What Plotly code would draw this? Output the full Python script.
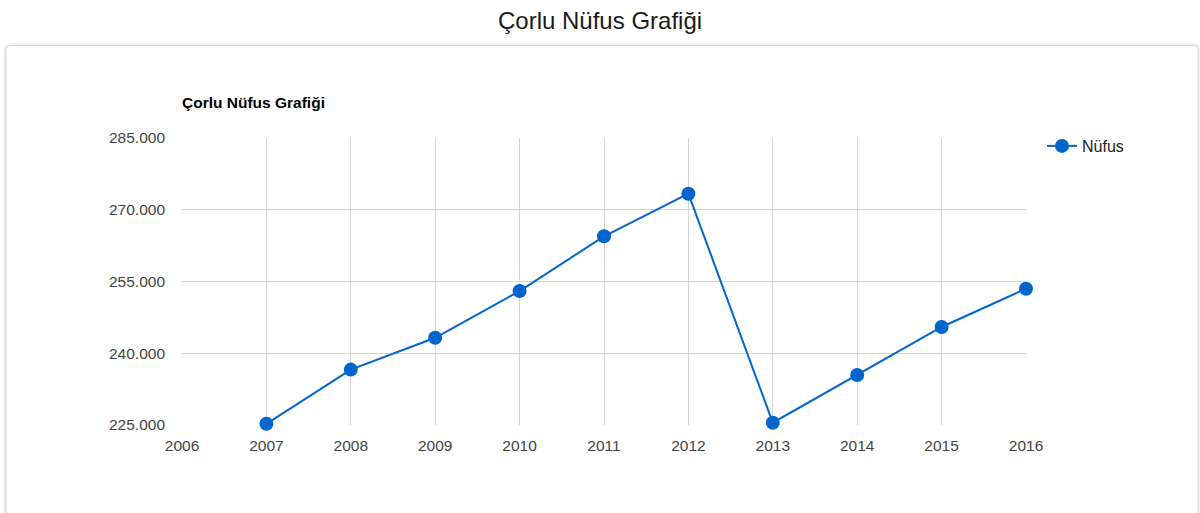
import plotly.graph_objects as go

# Çorlu population by year
years = [2007, 2008, 2009, 2010, 2011, 2012, 2013, 2014, 2015, 2016]
population = [225244, 236584, 243228, 253010, 264450, 273360, 225480, 235450, 245490, 253500]

x_ticks = list(range(2006, 2017))
y_ticks = [225000, 240000, 255000, 270000, 285000]

LINE_COLOR = '#0066cc'
FONT = 'Liberation Sans, Arial, sans-serif'

# plot area in pixels: left 182, right 1026, top 138, bottom 425
L, R, T, B = 182, 1026, 138, 425
W, H = 1200, 513


def px_x(px):
    return (px - L) / (R - L)


def px_y(py):
    return (B - py) / (B - T)


def rounded_rect(x0, y0, x1, y1, r=5):
    # pixel coords -> paper path with rounded corners
    rx = r / (R - L)
    ry = r / (B - T)
    a, b, c, d = px_x(x0), px_y(y0), px_x(x1), px_y(y1)
    return (f"M {a + rx},{b} L {c - rx},{b} Q {c},{b} {c},{b - ry} "
            f"L {c},{d + ry} Q {c},{d} {c - rx},{d} L {a + rx},{d} "
            f"Q {a},{d} {a},{d + ry} L {a},{b - ry} Q {a},{b} {a + rx},{b} Z")


fig = go.Figure()

fig.add_trace(go.Scatter(
    x=years,
    y=population,
    mode='lines+markers',
    name='Nüfus',
    line=dict(color=LINE_COLOR, width=2),
    marker=dict(color=LINE_COLOR, size=14),
    cliponaxis=False,
))

# card behind the chart
fig.add_shape(type='path', xref='paper', yref='paper', layer='below',
              path=rounded_rect(5, 44.5, 1199, 530, 6),
              line=dict(color='#f0f0f0', width=3), fillcolor='white')
fig.add_shape(type='path', xref='paper', yref='paper', layer='below',
              path=rounded_rect(6, 45.5, 1198, 530, 5),
              line=dict(color='#d4d4d4', width=1), fillcolor='white')

fig.add_annotation(text='Çorlu Nüfus Grafiği', xref='paper', yref='paper',
                   x=px_x(600), y=px_y(20), xanchor='center', yanchor='middle',
                   showarrow=False, font=dict(family=FONT, size=24, color='#1a1a1a'))
fig.add_annotation(text='<b>Çorlu Nüfus Grafiği</b>', xref='paper', yref='paper',
                   x=px_x(180), y=px_y(103), xanchor='left', yanchor='middle',
                   showarrow=False, font=dict(family=FONT, size=15.5, color='#000000'))

fig.update_xaxes(range=[2006, 2016], tickvals=x_ticks, showgrid=True,
                 gridcolor='#d4d4d4', zeroline=False, showline=False,
                 ticks='', ticklabelstandoff=9,
                 tickfont=dict(family=FONT, size=15.5, color='#444444'))
fig.update_yaxes(range=[225000, 285000], tickvals=y_ticks, tickformat=',d',
                 showgrid=True, gridcolor='#d4d4d4', zeroline=False,
                 showline=False, ticks='', ticklabelstandoff=16,
                 tickfont=dict(family=FONT, size=15.5, color='#444444'))

fig.update_layout(
    width=W, height=H,
    separators=',.',
    plot_bgcolor='white',
    paper_bgcolor='white',
    font=dict(family=FONT),
    margin=dict(l=L, r=W - R, t=T, b=H - B, pad=0),
    showlegend=True,
    legend=dict(x=px_x(1042), y=px_y(129), xanchor='left', yanchor='top',
                font=dict(family=FONT, size=16, color='#222222'),
                bgcolor='rgba(0,0,0,0)', itemwidth=30),
)

fig.write_html('out.html', config={'displayModeBar': False},
               post_script="document.body.style.margin='0px';")
